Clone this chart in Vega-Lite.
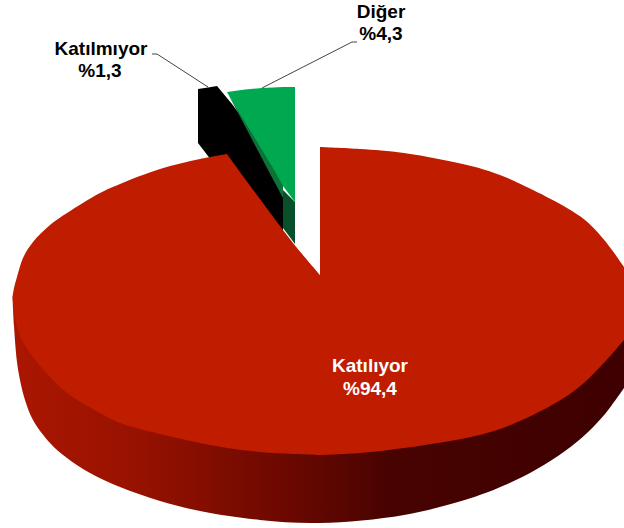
{
"$schema":"https://vega.github.io/schema/vega-lite/v6.json",
"width":624,"height":528,"padding":0,"autosize":{"type":"none"},
"background":"white","view":{"stroke":null},
"datasets":{
"shapes":[
{"part":"side","x":12.5,"y":295,"y2":295},{"part":"side","x":14,"y":304,"y2":326},{"part":"side","x":17,"y":321,"y2":362},{"part":"side","x":20,"y":328,"y2":380},{"part":"side","x":25,"y":339,"y2":400},{"part":"side","x":33,"y":351,"y2":420},{"part":"side","x":50,"y":371,"y2":443},{"part":"side","x":67,"y":387,"y2":458},{"part":"side","x":90,"y":402,"y2":473},{"part":"side","x":120,"y":417,"y2":487},{"part":"side","x":160,"y":428,"y2":501},{"part":"side","x":200,"y":437,"y2":511},{"part":"side","x":260,"y":446,"y2":520},{"part":"side","x":320,"y":449,"y2":523},{"part":"side","x":404,"y":442,"y2":515},{"part":"side","x":471,"y":431,"y2":498},{"part":"side","x":505,"y":421,"y2":485},{"part":"side","x":537,"y":407,"y2":469},{"part":"side","x":565,"y":391,"y2":451},{"part":"side","x":587,"y":374,"y2":433},{"part":"side","x":605,"y":356,"y2":414},{"part":"side","x":624,"y":334,"y2":388},
{"part":"black","x":198,"y":89,"y2":143},{"part":"black","x":208,"y":87.5,"y2":156},{"part":"black","x":217,"y":86,"y2":167},{"part":"black","x":232,"y":104,"y2":180},{"part":"black","x":240,"y":115,"y2":190},{"part":"black","x":283,"y":190,"y2":232},
{"part":"greenStrip","x":227,"y":92,"y2":92},{"part":"greenStrip","x":267,"y":156,"y2":168},{"part":"greenStrip","x":283,"y":180,"y2":198},
{"part":"greenBox","x":283,"y":190,"y2":228},{"part":"greenBox","x":295,"y":202,"y2":244},
{"part":"green","x":227,"y":92,"y2":92},{"part":"green","x":245,"y":89.5,"y2":122},{"part":"green","x":262,"y":88,"y2":150},{"part":"green","x":273,"y":87.5,"y2":168},{"part":"green","x":283,"y":87,"y2":186},{"part":"green","x":295,"y":87,"y2":202},
{"part":"redLeft","x":12.5,"y":297,"y2":297},{"part":"redLeft","x":14,"y":288,"y2":310},{"part":"redLeft","x":17,"y":277,"y2":327},{"part":"redLeft","x":23,"y":258,"y2":342},{"part":"redLeft","x":33,"y":242,"y2":357},{"part":"redLeft","x":50,"y":225,"y2":377},{"part":"redLeft","x":67,"y":213,"y2":393},{"part":"redLeft","x":100,"y":193,"y2":413},{"part":"redLeft","x":120,"y":184,"y2":423},{"part":"redLeft","x":160,"y":169,"y2":434},{"part":"redLeft","x":200,"y":159,"y2":443},{"part":"redLeft","x":227,"y":154,"y2":448},
{"part":"redMid","x":226.5,"y":153.5,"y2":448},{"part":"redMid","x":260,"y":199,"y2":452},{"part":"redMid","x":293,"y":243,"y2":454},{"part":"redMid","x":320,"y":275,"y2":455},
{"part":"redRight","x":320,"y":147,"y2":455},{"part":"redRight","x":360,"y":149,"y2":453},{"part":"redRight","x":404,"y":153,"y2":448},{"part":"redRight","x":471,"y":166,"y2":437},{"part":"redRight","x":500,"y":175,"y2":429},{"part":"redRight","x":533,"y":190,"y2":415},{"part":"redRight","x":567,"y":208,"y2":396},{"part":"redRight","x":585,"y":220,"y2":382},{"part":"redRight","x":600,"y":235,"y2":367},{"part":"redRight","x":612,"y":250,"y2":354},{"part":"redRight","x":624,"y":267,"y2":340}
],
"leaders":[
{"label":"Katılmıyor","x":152,"y":54},{"label":"Katılmıyor","x":157,"y":54},{"label":"Katılmıyor","x":208,"y":87},
{"label":"Diğer","x":357,"y":42},{"label":"Diğer","x":352,"y":42},{"label":"Diğer","x":262,"y":88}
],
"labels":[
{"text":"Katılmıyor","x":101,"y":49,"c":"black"},{"text":"%1,3","x":100,"y":71,"c":"black"},
{"text":"Diğer","x":381,"y":12,"c":"black"},{"text":"%4,3","x":381,"y":34,"c":"black"},
{"text":"Katılıyor","x":370,"y":366,"c":"white"},{"text":"%94,4","x":370,"y":389,"c":"white"}
]
},
"encoding":{
"x":{"field":"x","type":"quantitative","scale":{"domain":[0,624]},"axis":null},
"y":{"field":"y","type":"quantitative","scale":{"domain":[528,0]},"axis":null}
},
"layer":[
{"data":{"name":"shapes"},"transform":[{"filter":"datum.part==='side'"}],"mark":{"type":"area","clip":true,"interpolate":"catmull-rom","color":{"gradient":"linear","x1":0,"x2":1,"y1":0,"y2":0,"stops":[{"offset":0,"color":"#ab1600"},{"offset":0.2,"color":"#981200"},{"offset":0.45,"color":"#6b0800"},{"offset":0.62,"color":"#470300"},{"offset":1,"color":"#3e0000"}]}},"encoding":{"y2":{"field":"y2"}}},
{"data":{"name":"shapes"},"transform":[{"filter":"datum.part==='black'"}],"mark":{"type":"area","color":"#000000"},"encoding":{"y2":{"field":"y2"}}},
{"data":{"name":"shapes"},"transform":[{"filter":"datum.part==='greenStrip'"}],"mark":{"type":"area","color":"#0d7238"},"encoding":{"y2":{"field":"y2"}}},
{"data":{"name":"shapes"},"transform":[{"filter":"datum.part==='greenBox'"}],"mark":{"type":"area","color":"#07502a"},"encoding":{"y2":{"field":"y2"}}},
{"data":{"name":"shapes"},"transform":[{"filter":"datum.part==='green'"}],"mark":{"type":"area","color":"#00a94f"},"encoding":{"y2":{"field":"y2"}}},
{"data":{"name":"shapes"},"transform":[{"filter":"datum.part==='redLeft'"}],"mark":{"type":"area","color":"#bf1c00","interpolate":"catmull-rom"},"encoding":{"y2":{"field":"y2"}}},
{"data":{"name":"shapes"},"transform":[{"filter":"datum.part==='redMid'"}],"mark":{"type":"area","color":"#bf1c00","interpolate":"catmull-rom"},"encoding":{"y2":{"field":"y2"}}},
{"data":{"name":"shapes"},"transform":[{"filter":"datum.part==='redRight'"}],"mark":{"type":"area","color":"#bf1c00","clip":true,"interpolate":"catmull-rom"},"encoding":{"y2":{"field":"y2"}}},
{"data":{"name":"leaders"},"mark":{"type":"line","color":"#444444","strokeWidth":1},"encoding":{"detail":{"field":"label"},"order":{"value":0}}},
{"data":{"name":"labels"},"mark":{"type":"text","font":"Liberation Sans","fontWeight":"bold","fontSize":19,"align":"center","baseline":"middle"},"encoding":{"text":{"field":"text"},"color":{"field":"c","type":"nominal","scale":null}}}
]
}
